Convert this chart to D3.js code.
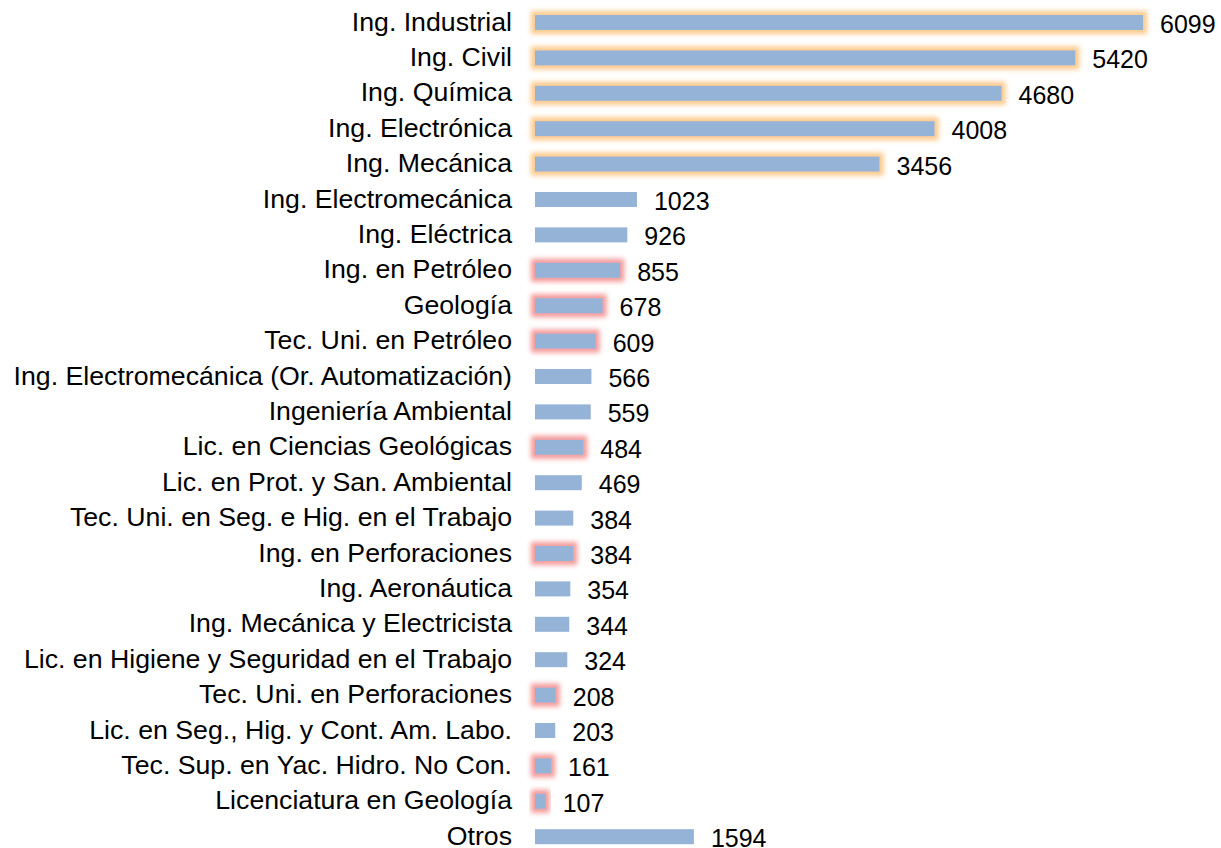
<!DOCTYPE html>
<meta charset="utf-8">
<html>
<head>
  <script src="https://d3js.org/d3.v7.min.js" charset="utf-8"></script>
</head>
<style>
* { font-family: "Liberation Sans", Arial, sans-serif; }
body { margin: 0; background-color: white; }
.bar { fill: #95b3d7; }
.cat { font-size: 26.7px; text-anchor: end; fill: #000; }
.val { font-size: 25px; fill: #000; }
</style>
<body>
<div id="container"></div>
<script type="text/javascript">

var categories = [
  "Ing. Industrial", "Ing. Civil", "Ing. Química", "Ing. Electrónica", "Ing. Mecánica",
  "Ing. Electromecánica", "Ing. Eléctrica", "Ing. en Petróleo", "Geología",
  "Tec. Uni. en Petróleo", "Ing. Electromecánica (Or. Automatización)", "Ingeniería Ambiental",
  "Lic. en Ciencias Geológicas", "Lic. en Prot. y San. Ambiental ", "Tec. Uni. en Seg. e Hig. en el Trabajo",
  "Ing. en Perforaciones", "Ing. Aeronáutica", "Ing. Mecánica y Electricista",
  "Lic. en Higiene y Seguridad en el Trabajo", "Tec. Uni. en Perforaciones",
  "Lic. en Seg., Hig. y Cont. Am. Labo.", "Tec. Sup. en Yac. Hidro. No Con.",
  "Licenciatura en Geología", "Otros"
];
var values = [6099, 5420, 4680, 4008, 3456, 1023, 926, 855, 678, 609, 566, 559, 484, 469,
              384, 384, 354, 344, 324, 208, 203, 161, 107, 1594];
// highlight group: "o" = orange glow, "r" = red glow, "" = none
var glow = ["o", "o", "o", "o", "o", "", "", "r", "r", "r", "", "", "r", "",
            "", "r", "", "", "", "r", "", "r", "r", ""];

var width = 1221, height = 848;
var svg = d3.select("#container").append("svg")
  .attr("width", width).attr("height", height);

var defs = svg.append("defs");
function makeGlow(id, color) {
  var f = defs.append("filter").attr("id", id)
    .attr("x", "-50%").attr("y", "-100%").attr("width", "200%").attr("height", "300%");
  f.append("feMorphology").attr("in", "SourceAlpha").attr("operator", "dilate").attr("radius", 4).attr("result", "d");
  f.append("feGaussianBlur").attr("in", "d").attr("stdDeviation", 2.8).attr("result", "b");
  f.append("feFlood").attr("flood-color", color).attr("result", "c");
  f.append("feComposite").attr("in", "c").attr("in2", "b").attr("operator", "in").attr("result", "g");
  var m = f.append("feMerge");
  m.append("feMergeNode").attr("in", "g");
  m.append("feMergeNode").attr("in", "SourceGraphic");
}
makeGlow("glow-o", "#fcc98a");
makeGlow("glow-r", "#f59a9a");

var x = d3.scaleLinear().domain([0, 6099]).range([535, 1143]);
var y = d3.scaleBand().domain(categories).range([4.8, 854.4])
  .paddingInner(0.576).paddingOuter(0.288);

var data = categories.map(function(c, i) { return {cat: c, val: values[i], glow: glow[i]}; });

svg.selectAll("rect.bar").data(data).enter().append("rect")
  .attr("class", "bar")
  .attr("x", x(0))
  .attr("y", d => y(d.cat))
  .attr("width", d => x(d.val) - x(0))
  .attr("height", y.bandwidth())
  .attr("filter", d => d.glow ? "url(#glow-" + d.glow + ")" : null);

svg.selectAll("text.cat").data(data).enter().append("text")
  .attr("class", "cat")
  .attr("x", 512)
  .attr("y", d => y(d.cat) + y.bandwidth() / 2)
  .attr("dy", "0.3em")
  .text(d => d.cat);

svg.selectAll("text.val").data(data).enter().append("text")
  .attr("class", "val")
  .attr("x", d => x(d.val) + 17)
  .attr("y", d => y(d.cat) + y.bandwidth() / 2)
  .attr("dy", "0.42em")
  .text(d => d.val);

</script>
</body>
</html>
